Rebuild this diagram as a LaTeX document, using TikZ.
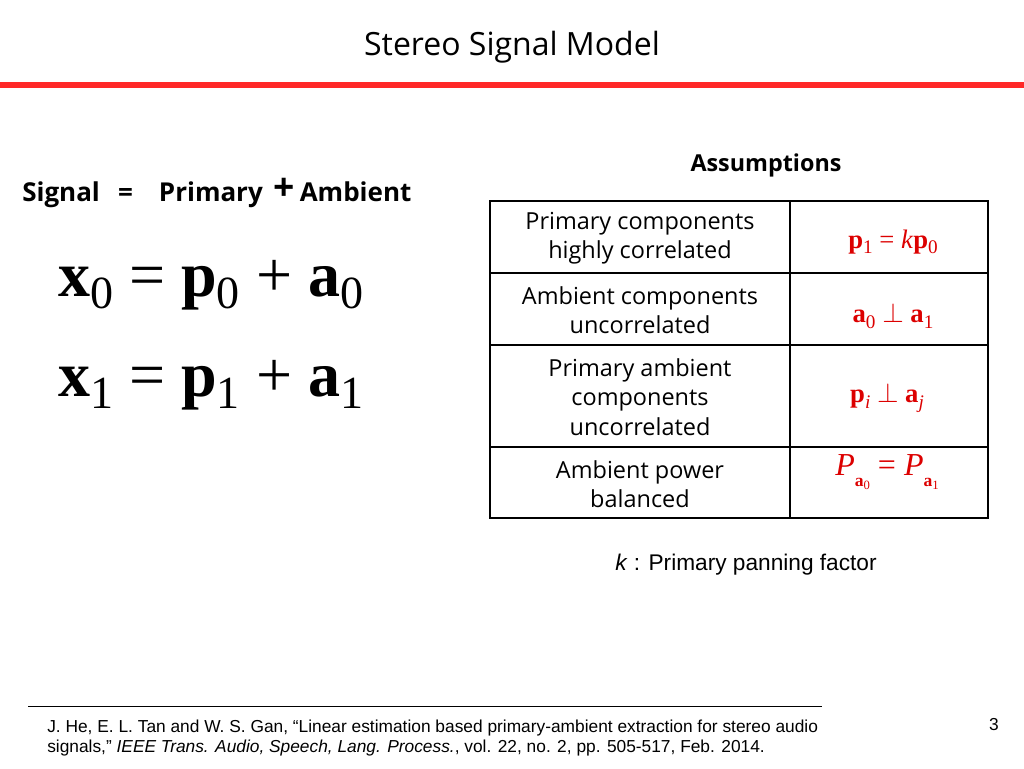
\documentclass[tikz,border=0pt]{standalone}
\usepackage{fontspec}
\setmainfont{Liberation Serif}
\setsansfont{Open Sans}
\newfontfamily\arialf{Liberation Sans}
\definecolor{redline}{RGB}{255,40,40}
\definecolor{mred}{RGB}{220,0,0}
\newcommand{\esub}[2]{\textbf{#1}\raisebox{-0.2em}{\scalebox{0.72}{#2}}}
\begin{document}
\begin{tikzpicture}[x=0.75pt,y=-0.75pt,
  txt/.style={font=\sffamily\fontsize{17.6}{22}\selectfont,align=center,inner sep=0},
  mth/.style={text=mred,font=\fontsize{20}{22}\selectfont,inner sep=0},
  big/.style={font=\fontsize{48}{52}\selectfont,anchor=base west,inner sep=0}]
\useasboundingbox (0,0) rectangle (1024,768);
\node[font=\sffamily\fontsize{24}{28}\selectfont] (title) at (512,47) {Stereo Signal Model};
\fill[redline] (0,82) rectangle (1024,88);
\node[anchor=west,font=\sffamily\bfseries\fontsize{19.5}{22}\selectfont,inner sep=0] (sig) at (22,193) {Signal\hspace{0.7em}=\hspace{1em}Primary\hspace{0.4em}\raisebox{1pt}{\fontsize{28}{28}\selectfont+}\hspace{0.2em}Ambient};
\node[big] (e1) at (58,296) {\esub{x}{0} = \esub{p}{0} + \esub{a}{0}};
\node[big] (e2) at (58,396) {\esub{x}{1} = \esub{p}{1} + \esub{a}{1}};
\node[font=\sffamily\bfseries\fontsize{17.5}{20}\selectfont] (as) at (766,165) {Assumptions};
\draw[line width=1pt] (490,201) rectangle (988,518);
\foreach \y in {273,345,447} \draw[line width=0.8pt] (490,\y) -- (988,\y);
\draw[line width=0.8pt] (790,201) -- (790,518);
\node[txt] (r1) at (640,238) {Primary components\\highly correlated};
\node[txt] (r2) at (640,310) {Ambient components\\uncorrelated};
\node[txt] (r3) at (640,397) {Primary ambient\\components\\uncorrelated};
\node[txt] (r4) at (640,484) {Ambient power\\balanced};
\node[mth] (m1) at (893,242) {\esub{p}{1} = \textit{k}\esub{p}{0}};
\node[mth] (m2) at (893,316) {\esub{a}{0} $\perp$ \esub{a}{1}};
\node[mth] (m3) at (887,398) {\esub{p}{\textit{i}} $\perp$ \esub{a}{\textit{j}}};
\node[mth,font=\fontsize{24}{24}\selectfont] (m4) at (887,472) {\textit{P}\raisebox{-0.35em}{\scalebox{0.55}{\esub{a}{0}}} = \textit{P}\raisebox{-0.35em}{\scalebox{0.55}{\esub{a}{1}}}};
\node[font=\arialf\fontsize{17}{20}\selectfont] (k) at (746,565) {\textit{k} : Primary panning factor};
\draw[line width=0.6pt] (28,706) -- (822,706);
\node[anchor=north west,align=left,inner sep=0,font=\arialf\fontsize{13}{15}\selectfont] (ref) at (47,720) {J. He, E. L. Tan and W. S. Gan, “Linear estimation based primary-ambient extraction for stereo audio\\signals,” \textit{IEEE Trans. Audio, Speech, Lang. Process.}, vol. 22, no. 2, pp. 505-517, Feb. 2014.};
\node[font=\arialf\fontsize{13}{14}\selectfont] (pg) at (994,725) {3};
\end{tikzpicture}
\end{document}
